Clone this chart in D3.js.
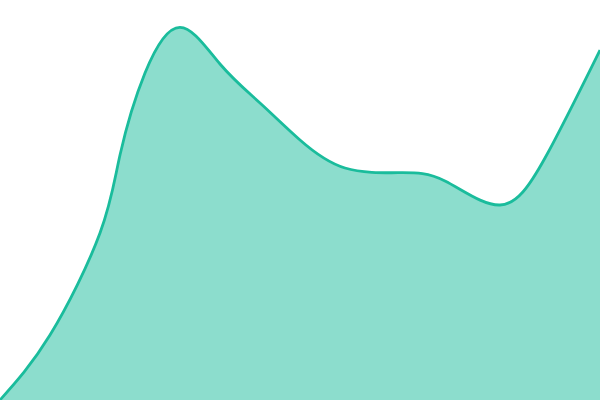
<!DOCTYPE html>
<meta charset="utf-8">
<style>
body{
	margin:0;
	background:#fff;
}
svg{
	display:block;
}
.area{
	fill:#1abc9c;
	fill-opacity:0.5;
	stroke:none;
}
.line{
	fill:none;
	stroke:#1abc9c;
	stroke-width:2.8px;
}
</style>
<body>
<script src="https://d3js.org/d3.v7.min.js"></script>
<div id="chart"></div>
<script>

    // ---------- data ------------
    var xValues = [0, 50, 100, 120, 145, 180, 220, 260, 300, 345, 400, 445, 500, 545, 600];
    var yValues = [0, 65, 167, 245, 327, 372.7, 336, 297, 260, 232, 227.3, 219, 195, 242, 350];

    var width = 600, height = 400;

    var svg = d3.select("#chart").append("svg").attr("width", width).attr("height", height);

    var x = d3.scaleLinear().domain([0, 600]).range([0, width]);
    var y = d3.scaleLinear().domain([0, 400]).range([height, 0]);

    var data = xValues.map(function(d, i){ return {x: d, y: yValues[i]}; });

    var curve = d3.curveNatural;

    var area = d3.area()
        .curve(curve)
        .x(d => x(d.x))
        .y0(y(0))
        .y1(d => y(d.y));

    var line = d3.line()
        .curve(curve)
        .x(d => x(d.x))
        .y(d => y(d.y));

    svg.append("path").datum(data).attr("class", "area").attr("d", area);
    svg.append("path").datum(data).attr("class", "line").attr("d", line);

</script>
</body>
